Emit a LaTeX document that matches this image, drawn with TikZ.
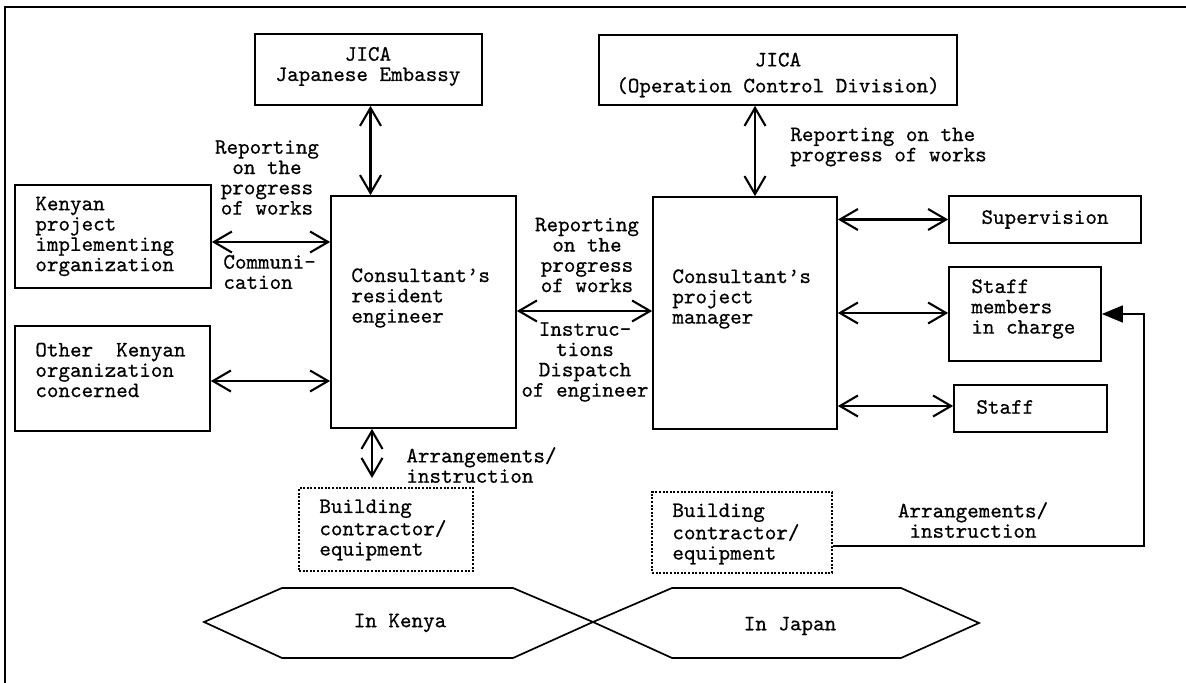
\documentclass[tikz,border=0pt]{standalone}
\usepackage{fontspec}
\newfontfamily\refmono{lmmono10-regular}[Extension=.otf,FakeBold=0.6]
\usetikzlibrary{arrows.meta,calc}
\begin{document}
\begin{tikzpicture}[x=0.5pt,y=-0.5pt,
  every node/.style={font=\refmono\fontsize{11pt}{10.15pt}\selectfont},
  box/.style={draw,line width=0.85pt,inner sep=0pt,rectangle},
  dbox/.style={draw,line width=0.7pt,dash pattern=on 1pt off 0.8pt,inner sep=0pt,rectangle},
  txt/.style={inner sep=0pt,align=left,anchor=west},
  ctxt/.style={inner sep=0pt,align=center},
  biarrow/.style={line width=1.05pt,{Straight Barb[length=9pt,width=10.5pt]}-{Straight Barb[length=9pt,width=10.5pt]}},
  feed/.style={line width=0.85pt,-{Triangle[length=10.5pt,width=8.5pt]}},
  hex/.style={line width=0.85pt,line join=miter},
  frame/.style={line width=1pt}
]
\useasboundingbox (0,0) rectangle (1186,683);

% outer frame (top and left)
\coordinate (fbl) at (5,683);
\coordinate (ftl) at (5,7);
\coordinate (ftr) at (1186,7);
\draw[frame] (fbl) -- (ftl) -- (ftr);

% boxes
\node[box,minimum width=113.5pt,minimum height=35.5pt] (jemb) at (368.5,69.5) {};
\node[box,minimum width=179pt,minimum height=35pt] (jocd) at (778,70) {};
\node[box,minimum width=98pt,minimum height=51.5pt] (ken) at (113,236.5) {};
\node[box,minimum width=97.5pt,minimum height=52.5pt] (other) at (112.5,378.5) {};
\node[box,minimum width=92.5pt,minimum height=116pt] (res) at (423.5,312) {};
\node[box,minimum width=92pt,minimum height=116pt] (mgr) at (745,313) {};
\node[box,minimum width=96pt,minimum height=23.5pt] (sup) at (1045,219.5) {Supervision};
\node[box,minimum width=76pt,minimum height=47pt] (sm) at (1025,314) {};
\node[box,minimum width=76.5pt,minimum height=23.5pt] (staff) at (1030.5,408.5) {};
\node[dbox,minimum width=87pt,minimum height=41.5pt] (bck) at (386,529.5) {};
\node[dbox,minimum width=90pt,minimum height=40.5pt] (bcj) at (742,532.5) {};

% box texts
\node[ctxt] (jembT) at (368,66.5) {JICA\\Japanese Embassy};
\node[ctxt] (jocdT) at (778,75) {JICA\\[2.85pt](Operation Control Division)};
\node[txt] (kenT) at (35,236.5) {Kenyan\\project\\implementing\\organization};
\node[txt] (otherT) at (35,370) {Other\ \ Kenyan\\organization\\concerned};
\node[txt] (resT) at (351,298) {Consultant’s\\resident\\engineer};
\node[txt] (mgrT) at (672,299) {Consultant’s\\project\\manager};
\node[txt] (smT) at (971,309) {Staff\\members\\in charge};
\node[txt] (staffT) at (976,407) {Staff};
\node[txt] (bckT) at (319,530) {Building\\contractor/\\equipment};
\node[txt] (bcjT) at (672,534) {Building\\contractor/\\equipment};

% connector labels
\node[ctxt] (lblA) at (267,177.5) {Reporting\\on the\\progress\\of works};
\node[txt] (lblComm) at (223,272) {Communi-\\cation};
\node[ctxt] (lblMidA) at (587,255) {Reporting\\on the\\progress\\of works};
\node[ctxt] (lblMidB) at (585,362) {Instruc-\\tions\\Dispatch\\of engineer};
\node[txt] (lblJ) at (790,147) {Reporting on the\\progress of works};
\node[txt] (lblArrK) at (406,465) {Arrangements/\\instruction};
\node[ctxt] (lblArrJ) at (973,520) {Arrangements/\\instruction};

% connectors
\draw[biarrow] ([xshift=1pt]jemb.south) -- ([xshift=1pt]jemb.south |- res.north);
\draw[biarrow] ([xshift=-11.5pt]jocd.south) -- ([xshift=-11.5pt]jocd.south |- mgr.north);
\draw[biarrow] ([yshift=-2.75pt]ken.east) -- ([yshift=-2.75pt]ken.east -| res.west);
\draw[biarrow] ([yshift=-1.25pt]other.east) -- ([yshift=-1.25pt]other.east -| res.west);
\draw[biarrow] ([yshift=0.5pt]res.east) -- ([yshift=0.5pt]res.east -| mgr.west);
\draw[biarrow] (sup.west -| mgr.east) -- (sup.west);
\draw[biarrow] (mgr.east) -- (mgr.east -| sm.west);
\draw[biarrow] ([yshift=1.25pt]staff.west -| mgr.east) -- ([yshift=1.25pt]staff.west);
\coordinate (kend) at (372,478);
\draw[biarrow] (kend |- res.south) -- (kend);
\coordinate (rc) at (1144,546);
\draw[feed] ([yshift=-6.75pt]bcj.east) -- ([yshift=-6.75pt]bcj.east -| rc) -- (rc |- sm.east) -- (sm.east);

% location hexagons
\draw[hex] (204,622) -- (282,588) -- (513,588) -- (593,622) -- (513,658) -- (282,658) -- cycle;
\draw[hex] (593,622) -- (672,588) -- (901,588) -- (979,623) -- (901,658) -- (672,658) -- cycle;
\node[ctxt] (kenya) at (400,623) {In Kenya};
\node[ctxt] (japan) at (790,626) {In Japan};
\end{tikzpicture}
\end{document}
